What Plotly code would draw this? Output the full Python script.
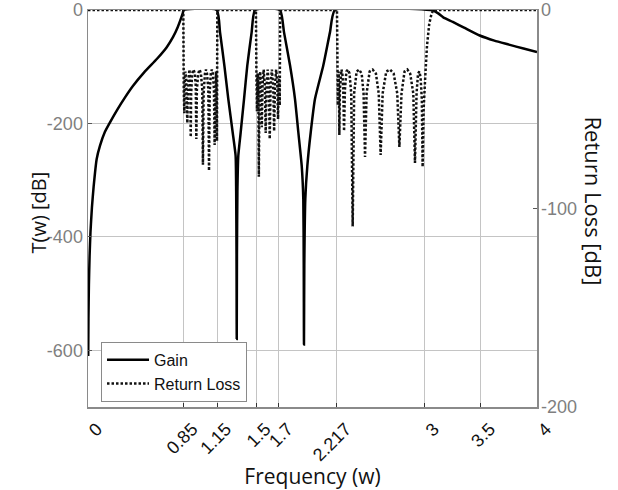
import plotly.graph_objects as go

# Gain curve (left axis, dB)
gain_w = [0.002, 0.004, 0.008, 0.014, 0.022, 0.035, 0.05, 0.077, 0.107, 0.15, 0.196, 0.26, 0.33,
          0.40, 0.50, 0.615, 0.70, 0.757, 0.80, 0.83, 0.845, 0.852,
          1.147, 1.176, 1.215, 1.250, 1.289, 1.315, 1.320, 1.323, 1.325, 1.327, 1.331, 1.339,
          1.360, 1.390, 1.419, 1.458, 1.488,
          1.710, 1.746, 1.800, 1.844, 1.874, 1.904, 1.918, 1.922, 1.924, 1.927, 1.936, 1.954,
          1.984, 2.022, 2.096, 2.156, 2.200,
          3.050, 3.076, 3.12, 3.165, 3.25, 3.35, 3.49, 3.62, 3.75, 3.88, 4.0]
gain_db = [-610, -545, -485, -435, -392, -348, -312, -263, -239, -215, -198, -176, -154,
           -134, -110, -86, -66, -48, -30, -14, -5, 0,
           0, -39, -98, -157, -216, -257, -320, -430, -580, -430, -320, -257,
           -216, -157, -98, -39, 0,
           0, -39, -98, -157, -216, -275, -333, -450, -590, -450, -333, -275,
           -216, -157, -98, -39, 0,
           0, -1, -6, -13, -21, -31, -45, -54, -61, -68, -74]

# Return loss (right axis, dB)
rl_w = [0.000, 0.849, 0.853, 0.858, 0.862, 0.868, 0.874, 0.879, 0.885, 0.890, 0.897, 0.903, 0.909,
        0.912, 0.915, 0.919, 0.928, 0.940, 0.952, 0.960, 0.965, 0.970, 0.982, 0.994, 1.006,
        1.018, 1.024, 1.030, 1.042, 1.051, 1.060, 1.072, 1.078, 1.084, 1.094, 1.103, 1.112,
        1.122, 1.128, 1.134, 1.140, 1.145, 1.149, 1.152,
        1.496, 1.500, 1.505, 1.509, 1.514, 1.518, 1.522, 1.527, 1.534, 1.541, 1.548, 1.555,
        1.565, 1.575, 1.583, 1.591, 1.601, 1.611, 1.619, 1.627, 1.638, 1.650, 1.658, 1.666,
        1.676, 1.686, 1.693, 1.699, 1.704, 1.708, 1.712,
        2.218, 2.222, 2.226, 2.230, 2.233, 2.236, 2.239, 2.244, 2.251, 2.258, 2.266, 2.274,
        2.281, 2.289, 2.302, 2.315, 2.330, 2.345, 2.358, 2.371, 2.393, 2.415, 2.438, 2.455,
        2.468, 2.482, 2.509, 2.536, 2.565, 2.590, 2.607, 2.625, 2.657, 2.690, 2.723, 2.755,
        2.774, 2.793, 2.820, 2.845, 2.870, 2.898, 2.913, 2.927, 2.940, 2.952, 2.963, 2.974,
        2.981, 2.990, 3.005, 3.020, 3.040, 3.060, 3.076, 4.0]
rl_db = [0, 0, -40, -52, -36, -31, -34, -42, -57, -40, -32, -30, -33,
         -40, -64, -42, -32, -30, -32, -38, -65, -40, -32, -30, -32,
         -40, -78, -42, -32, -30, -32, -40, -81, -42, -32, -30, -32,
         -40, -68, -42, -31, -40, -66, 0,
         0, -30, -51, -33, -32, -45, -84, -42, -31, -38, -59, -38,
         -30, -38, -62, -38, -30, -38, -65, -38, -30, -38, -61, -38,
         -30, -36, -55, -36, -33, -48, 0,
         0, -30, -48, -33, -31, -40, -63, -40, -31, -30, -32, -40,
         -61, -40, -31, -30, -32, -42, -109, -42, -31, -30, -32, -42,
         -74, -42, -31, -30, -32, -42, -73, -42, -31, -30, -32, -42,
         -69, -42, -31, -30, -32, -42, -77, -42, -32, -31, -34, -45,
         -79, -50, -33, -18, -7, -2, 0, 0]

x_ticks = [0, 0.85, 1.15, 1.5, 1.7, 2.217, 3, 3.5, 4]
x_ticktext = ["0", "0.85", "1.15", "1.5", "1.7", "2.217", "3", "3.5", "4"]
left_ticks = [0, -200, -400, -600]
right_ticks = [0, -100, -200]

fig = go.Figure()
fig.add_trace(go.Scatter(x=gain_w, y=gain_db, mode="lines", name="Gain",
                         line=dict(color="black", width=2.5, shape="spline", smoothing=0.5)))
fig.add_trace(go.Scatter(x=rl_w, y=rl_db, mode="lines", name="Return Loss", yaxis="y2",
                         line=dict(color="#111111", width=2.5, dash="2.5px,2px")))

tickfont_gray = dict(family="Liberation Sans, Arial, sans-serif", size=18, color="#7f7f7f")
title_font = dict(family="Open Sans, sans-serif", size=21, color="#111")
fig.update_layout(
    width=618, height=490,
    margin=dict(l=88, r=81, t=10, b=83, autoexpand=False),
    paper_bgcolor="white", plot_bgcolor="white",
    hovermode=False,
    xaxis=dict(range=[0, 4], tickvals=x_ticks, ticktext=x_ticktext, tickangle=-45,
               automargin=False, ticklabelshift=9, ticklabelstandoff=3,
               showgrid=True, gridcolor="#c4c4c4", gridwidth=1, zeroline=False,
               showline=True, linecolor="#8a8a8a", linewidth=1.5, mirror=True,
               ticks="inside", ticklen=4, tickcolor="#333",
               tickfont=dict(family="Liberation Sans, Arial, sans-serif", size=18, color="#111"),
               title=dict(text="Frequency (w)", font=title_font, standoff=2)),
    yaxis=dict(range=[-700, 0], tickvals=left_ticks, ticktext=[str(v) for v in left_ticks],
               automargin=False,
               showgrid=True, gridcolor="#c4c4c4", gridwidth=1, zeroline=False,
               showline=True, linecolor="#8a8a8a", linewidth=1.5, mirror=True,
               ticks="inside", ticklen=4, tickcolor="#555", tickfont=tickfont_gray),
    yaxis2=dict(range=[-200, 0], overlaying="y", side="right", tickvals=right_ticks,
                automargin=False, ticklabelstandoff=3,
                ticktext=[str(v) for v in right_ticks], showgrid=False, zeroline=False,
                ticks="inside", ticklen=4, tickcolor="#555", tickfont=tickfont_gray,
                showline=False),
    legend=dict(x=0.029, y=0.013, xanchor="left", yanchor="bottom",
                bgcolor="white", bordercolor="#8a8a8a", borderwidth=1,
                font=dict(family="Liberation Sans, Arial, sans-serif", size=16, color="#111"),
                itemwidth=42, tracegroupgap=0),
    showlegend=True,
    annotations=[
        dict(text="T(w) [dB]", xref="paper", yref="paper", x=0, y=0.5, yshift=-4,
             xshift=-50, xanchor="center", yanchor="middle",
             textangle=-90, showarrow=False,
             font=dict(family="Open Sans, sans-serif", size=20, color="#111")),
        dict(text="Return Loss [dB]", xref="paper", yref="paper", x=1, y=0.5, yshift=8,
             xshift=57, xanchor="center", yanchor="middle",
             textangle=90, showarrow=False,
             font=dict(family="Open Sans, sans-serif", size=22, color="#111")),
    ],
)

fig.write_html("out.html", config={"displayModeBar": False, "staticPlot": True},
               post_script="document.body.style.margin='0px';")
